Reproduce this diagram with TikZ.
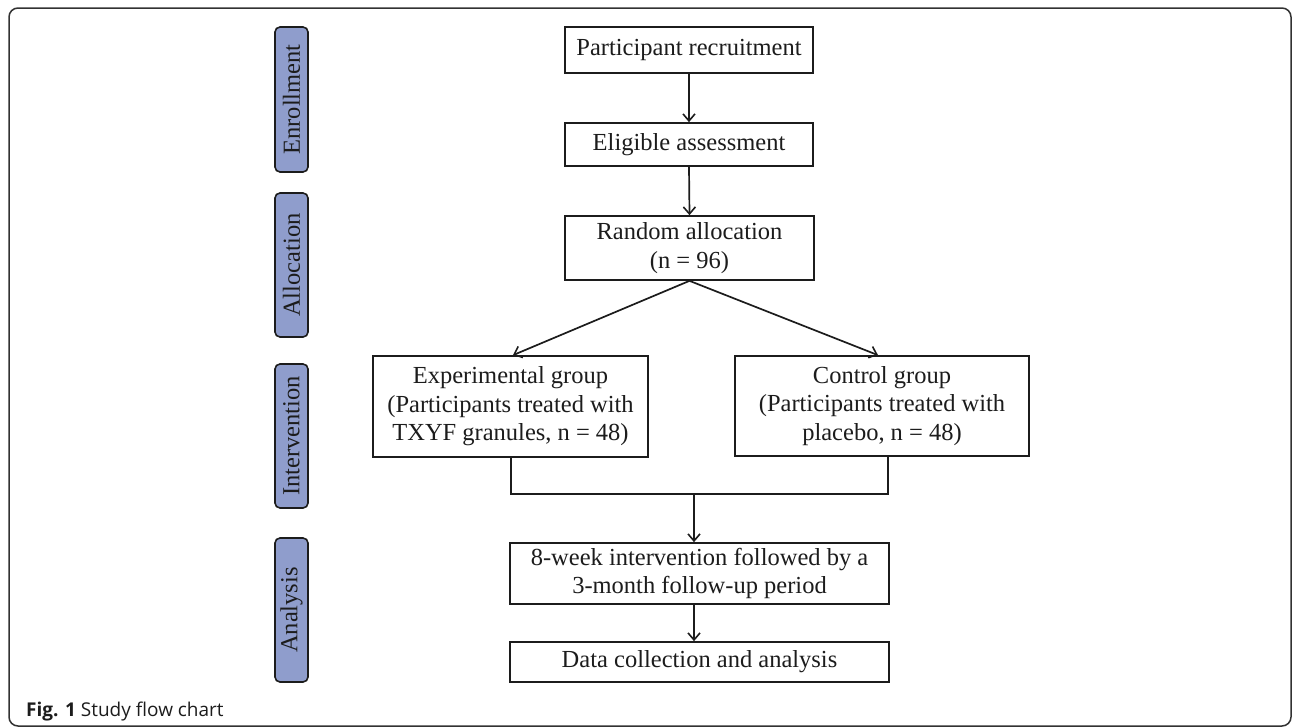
\documentclass[tikz,border=0pt]{standalone}
\usepackage{fontspec}
\setmainfont{Liberation Serif}
\newfontfamily\capfont{Open Sans}
\usetikzlibrary{arrows.meta,calc}
\definecolor{ink}{RGB}{28,28,28}
\definecolor{phasefill}{RGB}{143,157,204}
\definecolor{framecol}{RGB}{50,50,50}
\begin{document}
\begin{tikzpicture}[x=1pt,y=-1pt,
  flowbox/.style={draw=ink,line width=1.7pt,fill=white,inner sep=0pt,align=center,
    text=ink,font=\fontsize{24.5}{28.5}\selectfont},
  phasebox/.style={draw=ink,line width=1.6pt,fill=phasefill,rounded corners=5pt,inner sep=0pt,
    rotate=90,minimum height=33pt,text=ink,font=\fontsize{24.5}{28.5}\selectfont},
  link/.style={draw=ink,line width=1.7pt},
  arr/.style={link,-{Straight Barb[length=7pt,width=12pt,line width=1.6pt]}}
]
\useasboundingbox (0,0) rectangle (1293,728);
\draw[framecol,line width=1.5pt,rounded corners=9pt] (9,8) rectangle (1291,726);

% phase labels
\node[phasebox,minimum width=145pt] (enr) at (291.5,99.5) {Enrollment};
\node[phasebox,minimum width=144pt] (alo) at (291.5,265) {Allocation};
\node[phasebox,minimum width=144pt] (int) at (291.5,436) {Intervention};
\node[phasebox,minimum width=144pt] (ana) at (291.5,610) {Analysis};

% flow boxes
\node[flowbox,minimum width=248pt,minimum height=46pt] (rec) at (689,50) {Participant recruitment};
\node[flowbox,minimum width=248pt,minimum height=43pt] (eli) at (689,144.5) {Eligible assessment};
\node[flowbox,minimum width=249pt,minimum height=64pt] (ran) at (689.5,248) {Random allocation\\(n = 96)};
\node[flowbox,minimum width=275pt,minimum height=101pt] (exp) at (510.5,406.5) {Experimental group\\(Participants treated with\\TXYF granules, n = 48)};
\node[flowbox,minimum width=294pt,minimum height=100pt] (ctl) at (882,406) {Control group\\(Participants treated with\\placebo, n = 48)};
\node[flowbox,minimum width=379pt,minimum height=61pt] (eig) at (699.5,573.5) {8-week intervention followed by a\\3-month follow-up period};
\node[flowbox,minimum width=379pt,minimum height=40pt] (dat) at (699.5,662) {Data collection and analysis};

% connectors
\draw[arr] (rec.south) -- (eli.north);
\draw[arr] (eli.south) -- (ran.north);
\draw[arr] (ran.south) -- ($(exp.north)+(2.5,0)$);
\draw[arr] (ran.south) -- ($(ctl.north)+(-4,0)$);
\coordinate (jl) at (511,494);
\coordinate (jr) at (888,494);
\coordinate (jm) at (694,494);
\draw[link,line cap=rect] (jl |- exp.south) -- (jl) -- (jr) -- (jr |- ctl.south);
\draw[arr] (jm) -- (jm |- eig.north);
\draw[arr] (jm |- eig.south) -- (jm |- dat.north);

% caption
\node[anchor=base west,inner sep=0pt,text=ink,font=\capfont\fontsize{19}{22}\selectfont] (cap) at (26,716) {\textbf{Fig. 1} Study flow chart};
\end{tikzpicture}
\end{document}
